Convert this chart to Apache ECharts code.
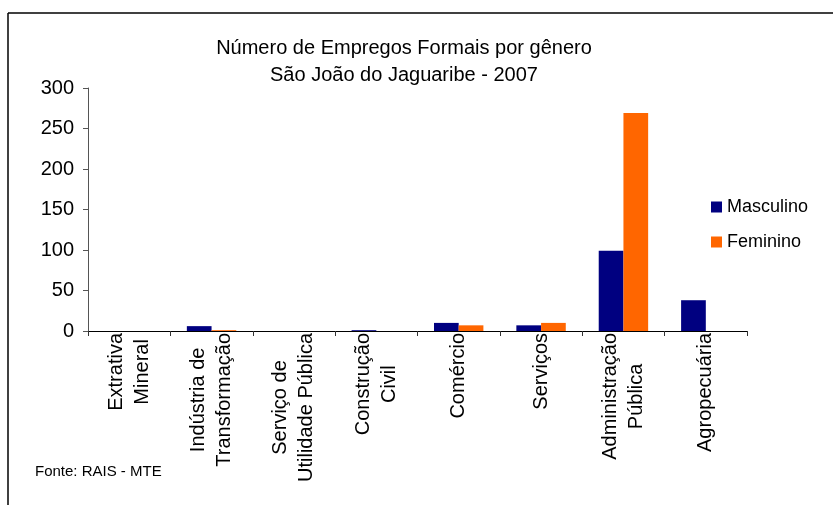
<!DOCTYPE html>
<html>
<head>
<meta charset="utf-8">
<script src="https://cdn.jsdelivr.net/npm/echarts@6/dist/echarts.min.js"></script>
<style>
html,body{margin:0;padding:0;background:#fff;}
#chart{width:833px;height:505px;}
</style>
</head>
<body>
<div id="chart"></div>
<script>
const categories = [
  ['Extrativa', 'Mineral'],
  ['Indústria de', 'Transformação'],
  ['Serviço de', 'Utilidade Pública'],
  ['Construção', 'Civil'],
  ['Comércio'],
  ['Serviços'],
  ['Administração', 'Pública'],
  ['Agropecuária']
];
const masculino = [0, 6, 0, 1, 10, 7, 99, 38];
const feminino = [0, 1, 0, 0, 7, 10, 269, 0];
const yTicks = { min: 0, max: 300, interval: 50 };
const titleText = 'Número de Empregos Formais por gênero\nSão João do Jaguaribe - 2007';
const sourceText = 'Fonte: RAIS - MTE';

const catNames = categories.map(c => c.join('\n'));
const FONT = 'Liberation Sans, Arial, sans-serif';

const chart = echarts.init(document.getElementById('chart'), null, { renderer: 'canvas' });
chart.setOption({
  backgroundColor: '#ffffff',
  animation: false,
  title: {
    text: titleText,
    left: 399,
    top: 30,
    textAlign: 'center',
    textStyle: { fontFamily: FONT, fontSize: 20, fontWeight: 'normal', color: '#000', lineHeight: 27 }
  },
  legend: {
    orient: 'vertical',
    left: 711,
    top: 198,
    padding: 0,
    itemWidth: 11,
    itemHeight: 11,
    itemGap: 17,
    icon: 'rect',
    textStyle: { fontFamily: FONT, fontSize: 18, color: '#000' },
    data: ['Masculino', 'Feminino']
  },
  grid: { left: 88, right: 86, top: 88, bottom: 174, containLabel: false },
  xAxis: {
    type: 'category',
    data: catNames,
    axisLine: { lineStyle: { color: '#000', width: 1 } },
    axisTick: { show: true, length: 5, lineStyle: { color: '#333' } },
    axisLabel: {
      interval: 0,
      rotate: 90,
      margin: 2,
      color: '#000',
      fontFamily: FONT,
      fontSize: 20,
      lineHeight: 26,
      formatter: function (v) {
        return v.split('\n').map(l => '{c|' + l + '}').join('\n');
      },
      rich: { c: { align: 'center', fontFamily: FONT, fontSize: 20, lineHeight: 26, color: '#000' } }
    }
  },
  yAxis: {
    type: 'value',
    min: yTicks.min,
    max: yTicks.max,
    interval: yTicks.interval,
    splitLine: { show: false },
    axisLine: { show: true, lineStyle: { color: '#555', width: 1 } },
    axisTick: { show: true, length: 5, lineStyle: { color: '#555' } },
    axisLabel: { margin: 14, color: '#000', fontFamily: FONT, fontSize: 20 }
  },
  series: [
    { name: 'Masculino', type: 'bar', data: masculino, itemStyle: { color: '#000080' }, barGap: '0%', barCategoryGap: '40%' },
    { name: 'Feminino', type: 'bar', data: feminino, itemStyle: { color: '#FF6600' }, barGap: '0%', barCategoryGap: '40%' }
  ],
  graphic: [
    { type: 'line', shape: { x1: 8, y1: 13, x2: 833, y2: 13 }, style: { stroke: '#000', lineWidth: 1.5 } },
    { type: 'line', shape: { x1: 8, y1: 13, x2: 8, y2: 505 }, style: { stroke: '#000', lineWidth: 1.5 } },
    { type: 'text', left: 35, top: 464, style: { text: sourceText, font: '15px ' + FONT, fill: '#000' } }
  ]
});
</script>
</body>
</html>
